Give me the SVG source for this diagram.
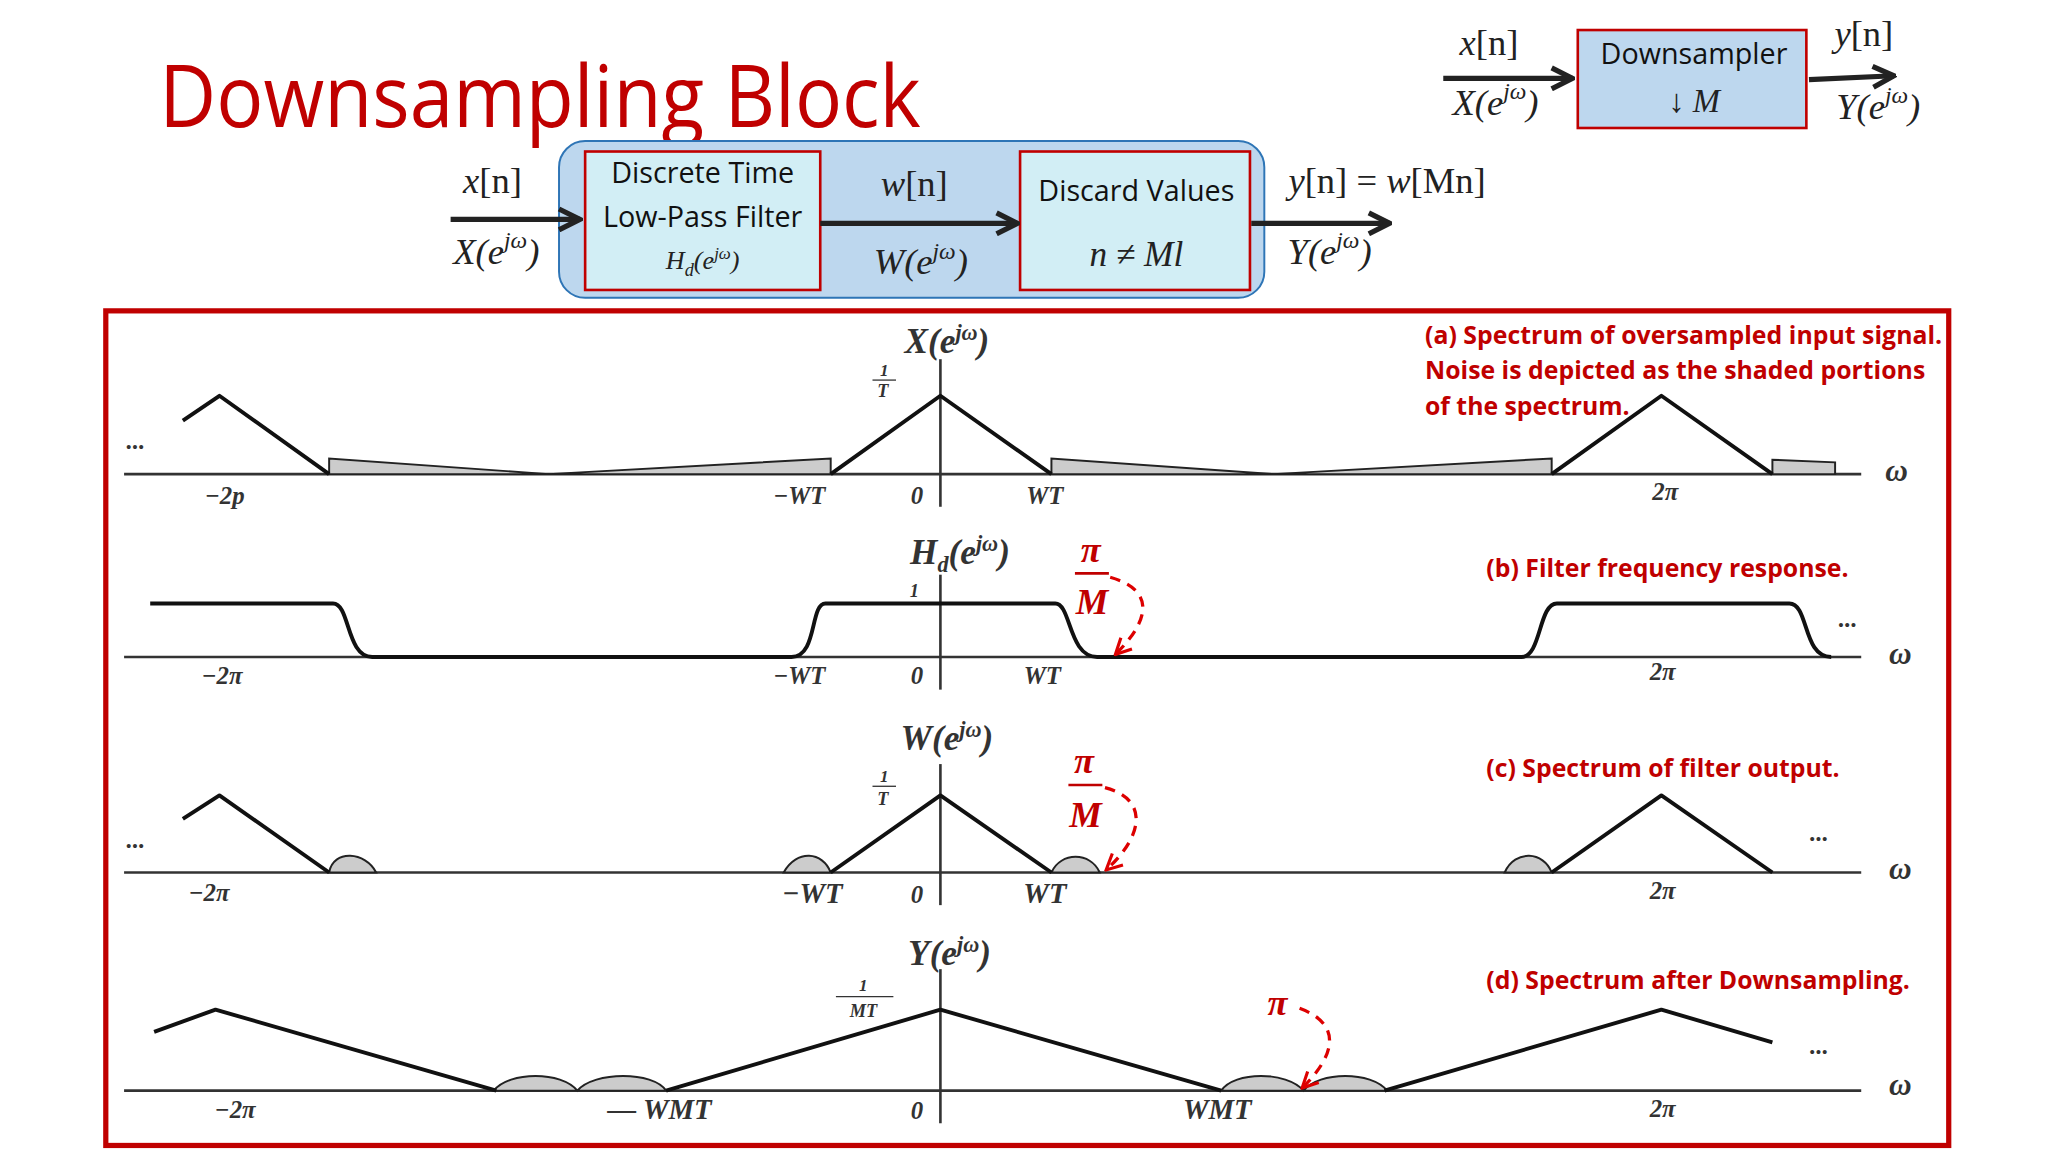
<svg xmlns="http://www.w3.org/2000/svg" width="2048" height="1152" viewBox="0 0 2048 1152">
<defs>
<marker id="ah" viewBox="0 0 10 10" refX="9" refY="5" markerWidth="5" markerHeight="5" orient="auto"><path d="M1,1 L9,5 L1,9" fill="none" stroke="#222" stroke-width="2"/></marker>
<marker id="rh" viewBox="0 0 10 10" refX="8" refY="5" markerWidth="6" markerHeight="6" orient="auto"><path d="M1,1 L9,5 L1,9" fill="none" stroke="#d00" stroke-width="1.6"/></marker>
</defs>
<style>
.m{font-family:"Liberation Serif",serif;font-style:italic;fill:#222}
.r{font-family:"Liberation Serif",serif;fill:#222}
.s{font-family:"Open Sans",sans-serif;fill:#111}
.an{font-family:"Open Sans",sans-serif;font-weight:bold;fill:#c00000;font-size:19px}
.ax{stroke:#333;stroke-width:2;fill:none}
.sig{stroke:#111;stroke-width:3;fill:none;stroke-linejoin:round}
.sh{fill:#ccc;stroke:#222;stroke-width:1.5}
.tk{font-family:"Liberation Serif",serif;font-style:italic;font-weight:bold;fill:#333;font-size:19px;text-anchor:middle}
.pi{font-family:"Liberation Serif",serif;font-style:italic;font-weight:bold;fill:#c00000;font-size:28px;text-anchor:middle}
.dash{stroke:#d00;stroke-width:2.5;fill:none;stroke-dasharray:8 6}
.arr{stroke:#222;stroke-width:4;fill:none}
</style>
<rect width="2048" height="1152" fill="#fff"/>
<g transform="scale(1.30612)">
<text x="122" y="97" font-family="Open Sans, sans-serif" font-size="66" fill="#c00000" textLength="583" lengthAdjust="spacingAndGlyphs">Downsampling Block</text>

<g id="block">
<rect x="428" y="108" width="540" height="120" rx="20" fill="#bdd7ee" stroke="#2e75b6" stroke-width="1.5"/>
</g>
<g id="lpf">
<rect x="448" y="116" width="180" height="106" fill="#d2eef5" stroke="#c00000" stroke-width="2"/>
<text class="s" x="538" y="140" font-size="22" text-anchor="middle">Discrete Time</text>
<text class="s" x="538" y="174" font-size="22" text-anchor="middle">Low-Pass Filter</text>
<text class="m" x="538" y="206" font-size="20" text-anchor="middle">H<tspan font-size="14" dy="5">d</tspan><tspan dy="-5">(e</tspan><tspan font-size="13" dy="-8">jω</tspan><tspan dy="8">)</tspan></text>
</g>
<g id="discard">
<rect x="781" y="116" width="176" height="106" fill="#d2eef5" stroke="#c00000" stroke-width="2"/>
<text class="s" x="870" y="154" font-size="22" text-anchor="middle">Discard Values</text>
<text class="m" x="870" y="204" font-size="27" text-anchor="middle">n ≠ Ml</text>
</g>
<g id="ds">
<rect x="1208" y="23" width="175" height="75" fill="#bdd7ee" stroke="#c00000" stroke-width="2"/>
<text class="s" x="1297" y="49" font-size="22" text-anchor="middle">Downsampler</text>
<text class="m" x="1297" y="86" font-size="25" text-anchor="middle"><tspan font-style="normal">↓</tspan> M</text>
</g>
<g id="connectors">
<line class="arr" x1="345" y1="168" x2="444" y2="168" marker-end="url(#ah)"/>
<line class="arr" x1="628" y1="171" x2="779" y2="171" marker-end="url(#ah)"/>
<line class="arr" x1="958" y1="171" x2="1064" y2="171" marker-end="url(#ah)"/>
<line class="arr" x1="1105" y1="60" x2="1204" y2="60" marker-end="url(#ah)"/>
<line class="arr" x1="1385" y1="61" x2="1450" y2="58" marker-end="url(#ah)"/>
</g>
<g font-size="28">
<text class="m" x="377" y="148" text-anchor="middle">x<tspan class="r" font-style="normal">[n]</tspan></text>
<text class="m" x="380" y="202" text-anchor="middle">X(e<tspan font-size="18" dy="-12">jω</tspan><tspan dy="12">)</tspan></text>
<text class="m" x="700" y="150" text-anchor="middle">w<tspan class="r" font-style="normal">[n]</tspan></text>
<text class="m" x="705" y="210" text-anchor="middle">W(e<tspan font-size="18" dy="-12">jω</tspan><tspan dy="12">)</tspan></text>
<text class="m" x="1062" y="148" text-anchor="middle">y<tspan class="r" font-style="normal">[n] = </tspan>w<tspan class="r" font-style="normal">[Mn]</tspan></text>
<text class="m" x="1018" y="202" text-anchor="middle">Y(e<tspan font-size="18" dy="-12">jω</tspan><tspan dy="12">)</tspan></text>
<text class="m" x="1140" y="42" text-anchor="middle">x<tspan class="r" font-style="normal">[n]</tspan></text>
<text class="m" x="1145" y="88" text-anchor="middle">X(e<tspan font-size="18" dy="-12">jω</tspan><tspan dy="12">)</tspan></text>
<text class="m" x="1427" y="35" text-anchor="middle">y<tspan class="r" font-style="normal">[n]</tspan></text>
<text class="m" x="1438" y="91" text-anchor="middle">Y(e<tspan font-size="18" dy="-12">jω</tspan><tspan dy="12">)</tspan></text>
</g>

<rect x="81" y="238" width="1411" height="639" fill="#fff" stroke="#c00000" stroke-width="4"/>

<!-- panel a -->
<g id="pa">
<line class="ax" x1="95" y1="363" x2="1425" y2="363"/>
<line class="ax" x1="720" y1="275" x2="720" y2="388"/>
<polygon class="sh" points="252,363 252,351 420,363 636,351 636,363"/>
<polygon class="sh" points="805,363 805,351 975,363 1188,351 1188,363"/>
<polygon class="sh" points="1357,363 1357,352 1405,354 1405,363"/>
<polyline class="sig" points="140,322 168,303 252,363"/>
<polyline class="sig" points="636,363 720,303 805,363"/>
<polyline class="sig" points="1188,363 1272,303 1357,363"/>
<text class="tk" x="172" y="386">−2p</text><text class="tk" x="612" y="386">−WT</text><text class="tk" x="702" y="386">0</text><text class="tk" x="800" y="386">WT</text><text class="tk" x="1275" y="383">2π</text>
<text class="tk" x="1452" y="368" style="font-size:24px">ω</text><text class="tk" x="104" y="344">...</text>
<text class="tk" x="725" y="270" style="font-size:27px">X(e<tspan style="font-size:17px" dy="-10">jω</tspan><tspan dy="10">)</tspan></text>
<text class="tk" x="677" y="288" style="font-size:13px">1</text><line x1="668" y1="291" x2="686" y2="291" stroke="#333"/><text class="tk" x="676" y="304" style="font-size:14px">T</text>
<text class="an" x="1091" y="263" textLength="396">(a) Spectrum of oversampled input signal.</text>
<text class="an" x="1091" y="290" textLength="383">Noise is depicted as the shaded portions</text>
<text class="an" x="1091" y="318">of the spectrum.</text>
</g>
<!-- panel b -->
<g id="pb">
<line class="ax" x1="95" y1="503" x2="1425" y2="503"/>
<line class="ax" x1="720" y1="440" x2="720" y2="528"/>
<path class="sig" d="M115,462 H255 C268,462 265,503 285,503 H606 C626,503 620,462 632,462 H808 C820,462 818,503 840,503 H1165 C1180,503 1178,462 1192,462 H1370 C1385,462 1380,503 1402,503"/>
<text class="tk" x="170" y="524">−2π</text><text class="tk" x="612" y="524">−WT</text><text class="tk" x="702" y="524">0</text><text class="tk" x="798" y="524">WT</text><text class="tk" x="1273" y="521">2π</text>
<text class="tk" x="1455" y="508" style="font-size:24px">ω</text><text class="tk" x="1415" y="480">...</text>
<text class="tk" x="735" y="432" style="font-size:27px">H<tspan style="font-size:17px" dy="6">d</tspan><tspan dy="-6">(e</tspan><tspan style="font-size:17px" dy="-10">jω</tspan><tspan dy="10">)</tspan></text>
<text class="tk" x="700" y="457" style="font-size:14px">1</text>
<text class="pi" x="835" y="430">π</text><line x1="823" y1="439" x2="849" y2="439" stroke="#c00000" stroke-width="2"/><text class="pi" x="836" y="470">M</text>
<path class="dash" d="M850,442 C885,452 880,475 855,500" marker-end="url(#rh)"/>
<text class="an" x="1138" y="442">(b) Filter frequency response.</text>
</g>
<!-- panel c -->
<g id="pc">
<line class="ax" x1="95" y1="668" x2="1425" y2="668"/>
<line class="ax" x1="720" y1="585" x2="720" y2="693"/>
<path class="sh" d="M252,668 C255,650 280,652 288,668 Z"/>
<path class="sh" d="M600,668 C610,650 630,652 636,668 Z"/>
<path class="sh" d="M805,668 C812,652 835,652 842,668 Z"/>
<path class="sh" d="M1152,668 C1160,650 1182,652 1188,668 Z"/>
<polyline class="sig" points="140,627 168,609 252,668"/>
<polyline class="sig" points="636,668 720,609 805,668"/>
<polyline class="sig" points="1188,668 1272,609 1357,668"/>
<text class="tk" x="160" y="690">−2π</text><text class="tk" x="622" y="691" style="font-size:22px">−WT</text><text class="tk" x="702" y="691">0</text><text class="tk" x="800" y="691" style="font-size:22px">WT</text><text class="tk" x="1273" y="688">2π</text>
<text class="tk" x="1455" y="673" style="font-size:24px">ω</text><text class="tk" x="104" y="649">...</text><text class="tk" x="1393" y="644">...</text>
<text class="tk" x="725" y="574" style="font-size:27px">W(e<tspan style="font-size:17px" dy="-10">jω</tspan><tspan dy="10">)</tspan></text>
<text class="tk" x="677" y="599" style="font-size:13px">1</text><line x1="668" y1="602" x2="686" y2="602" stroke="#333"/><text class="tk" x="676" y="616" style="font-size:14px">T</text>
<text class="pi" x="830" y="592">π</text><line x1="818" y1="601" x2="844" y2="601" stroke="#c00000" stroke-width="2"/><text class="pi" x="831" y="633">M</text>
<path class="dash" d="M846,603 C880,612 875,640 848,665" marker-end="url(#rh)"/>
<text class="an" x="1138" y="595">(c) Spectrum of filter output.</text>
</g>
<!-- panel d -->
<g id="pd">
<line class="ax" x1="95" y1="835" x2="1425" y2="835"/>
<line class="ax" x1="720" y1="742" x2="720" y2="860"/>
<path class="sh" d="M378,835 C390,820 430,820 442,835 C455,820 500,820 510,835 Z"/>
<path class="sh" d="M935,835 C945,820 985,820 998,835 C1010,820 1050,820 1062,835 Z"/>
<polyline class="sig" points="118,790 165,773 380,835"/>
<polyline class="sig" points="510,835 720,773 935,835"/>
<polyline class="sig" points="1060,835 1272,773 1357,798"/>
<text class="tk" x="180" y="856">−2π</text><text class="tk" x="505" y="857" style="font-size:22px">— WMT</text><text class="tk" x="702" y="857">0</text><text class="tk" x="932" y="857" style="font-size:22px">WMT</text><text class="tk" x="1273" y="855">2π</text>
<text class="tk" x="1455" y="838" style="font-size:24px">ω</text><text class="tk" x="1393" y="807">...</text>
<text class="tk" x="727" y="739" style="font-size:27px">Y(e<tspan style="font-size:17px" dy="-10">jω</tspan><tspan dy="10">)</tspan></text>
<text class="tk" x="661" y="759" style="font-size:13px">1</text><line x1="640" y1="763" x2="684" y2="763" stroke="#333"/><text class="tk" x="661" y="779" style="font-size:14px">MT</text>
<text class="pi" x="978" y="777">π</text>
<path class="dash" d="M995,772 C1030,785 1020,810 998,832" marker-end="url(#rh)"/>
<text class="an" x="1138" y="757">(d) Spectrum after Downsampling.</text>
</g>
</g>
</svg>
